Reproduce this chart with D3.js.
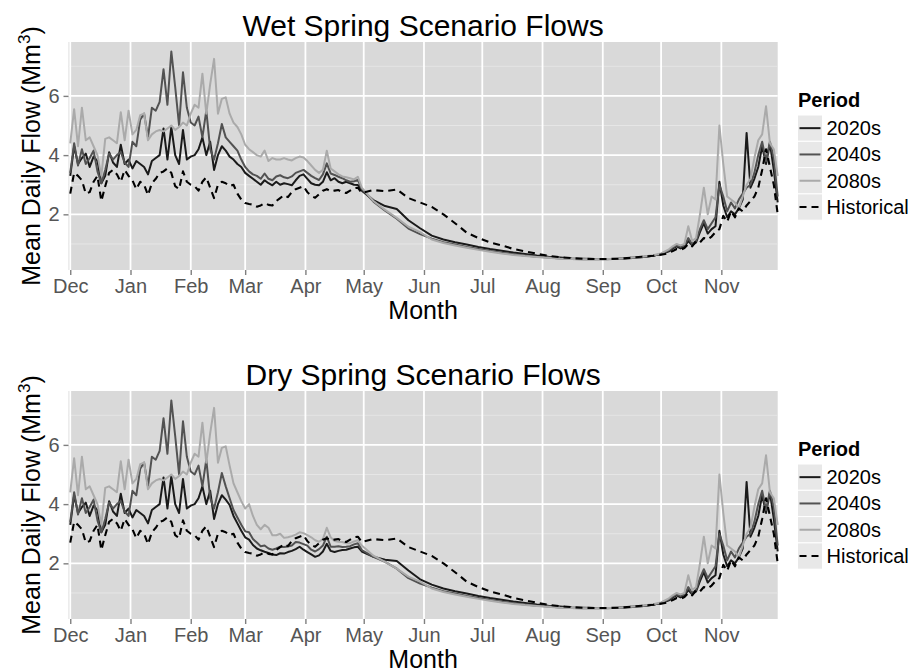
<!DOCTYPE html>
<html><head><meta charset="utf-8">
<script src="https://cdn.jsdelivr.net/npm/d3@7"></script>
<style>
body{margin:0;background:#fff}
svg{display:block}
text{font-family:"Liberation Sans",Arial,Helvetica,sans-serif}
</style>
</head><body>
<svg id="chart" width="913" height="669"></svg>
<script>
// ---------------- DATA ----------------
const monthLabels = ["Dec","Jan","Feb","Mar","Apr","May","Jun","Jul","Aug","Sep","Oct","Nov"];
const yTicks = [2,4,6];
const periods = ["2020s","2040s","2080s","Historical"];
const panelTitles = ["Wet Spring Scenario Flows","Dry Spring Scenario Flows"];

// day index: 0 = 1 December
const daysWinter = [0,2,4,6,8,10,12,14,16,18,20,22,24,26,28,30,32,34,36,38,40,42,44,46,48,50,52,54,56,58,60,62,64,66,68,70,72,74,76,78,80];
const daysSpring = [82,84,86,88,90,92,94,96,98,100,102,104,106,108,110,112,114,116,118,120,122,124,126,128,130,132,134,136,138,140,142,144,146,148,150,156,162,168,174,180];
const daysSummerFall = [186,192,198,204,210,216,222,228,234,240,246,252,258,264,270,276,282,288,294,300,
  302,304,306,308,310,312,314,316,318,320,322,324,326,328,330,332,334,336,338,340,342,344,346,348,350,352,354,356,358,360,362,364];

// Dec-Feb (same in both scenarios)
const winter2020s = [3.3,4.3,3.7,3.9,4.05,3.6,3.95,3.8,3.05,3.3,4.1,3.75,3.6,4.35,3.7,3.85,3.55,3.8,3.7,3.6,3.35,3.8,3.9,4.0,4.9,3.85,4.95,4.0,3.7,4.85,3.85,3.95,4.0,4.2,4.6,4.0,4.45,3.5,4.0,4.3,4.15];
const winter2040s = [3.4,4.4,3.65,4.2,3.7,3.9,4.15,3.45,3.05,3.5,4.05,3.85,4.0,4.1,3.75,3.6,4.45,4.3,5.2,5.4,4.6,5.6,5.5,5.8,6.9,5.7,7.5,6.3,5.0,6.8,5.6,5.1,5.0,5.3,4.6,5.5,4.2,3.85,4.4,5.05,4.6];
const winter2080s = [4.4,5.55,4.3,5.6,4.5,4.6,4.3,4.0,3.3,4.55,4.6,4.5,4.4,5.45,4.5,5.5,4.7,4.85,5.35,5.4,4.5,4.7,4.8,4.85,4.8,4.9,5.0,4.85,4.95,5.1,5.0,5.4,5.7,5.6,6.75,5.4,6.4,7.25,5.4,5.9,5.95];
const winterHistorical = [2.7,3.4,3.3,3.15,2.7,2.75,3.1,3.3,2.45,2.95,3.4,3.5,3.35,3.1,3.5,3.3,3.15,2.85,3.1,3.0,2.65,3.05,3.2,3.4,3.45,3.55,3.4,2.95,2.85,3.45,3.1,3.0,2.95,2.8,3.1,3.25,2.9,2.55,3.0,3.1,3.05];

// Mar-May, wet spring scenario
const wetSpring2020s = [3.95,3.85,3.7,3.6,3.4,3.3,3.2,3.1,3.0,3.15,3.05,2.98,3.1,3.0,3.05,3.02,2.98,3.15,3.3,3.35,3.2,3.05,3.0,2.98,3.1,3.42,3.15,3.22,3.1,3.05,3.1,3.05,3.0,2.99,2.8,2.48,2.28,2.18,1.8,1.53];
const wetSpring2040s = [4.45,4.3,4.15,3.85,3.6,3.45,3.35,3.3,3.2,3.38,3.2,3.15,3.28,3.32,3.25,3.22,3.28,3.4,3.45,3.5,3.4,3.3,3.22,3.16,3.35,3.72,3.38,3.33,3.27,3.22,3.15,3.1,3.12,3.16,2.85,2.43,2.12,1.85,1.52,1.33];
const wetSpring2080s = [5.4,5.1,4.95,4.7,4.35,4.2,4.1,4.0,3.95,4.15,3.8,3.9,3.85,3.85,3.9,3.85,3.82,3.9,3.95,3.92,3.8,3.65,3.5,3.4,3.5,4.15,3.55,3.45,3.35,3.28,3.25,3.22,3.18,3.27,2.9,2.45,2.15,1.88,1.58,1.4];
// Mar-May, dry spring scenario
const drySpring2020s = [3.97,3.6,3.35,3.1,2.88,2.8,2.62,2.5,2.44,2.39,2.35,2.3,2.28,2.34,2.33,2.38,2.42,2.48,2.56,2.46,2.38,2.3,2.22,2.27,2.4,2.66,2.42,2.38,2.42,2.45,2.46,2.5,2.54,2.56,2.4,2.22,2.12,2.08,1.76,1.46];
const drySpring2040s = [4.2,3.8,3.55,3.3,3.08,3.05,2.82,2.7,2.58,2.6,2.5,2.46,2.5,2.56,2.55,2.57,2.6,2.72,2.7,2.65,2.6,2.46,2.4,2.48,2.6,2.9,2.56,2.56,2.58,2.55,2.56,2.58,2.64,2.68,2.45,2.22,2.05,1.82,1.5,1.32];
const drySpring2080s = [5.3,4.7,4.4,4.1,3.85,4.0,3.6,3.3,3.15,3.3,3.2,2.95,2.95,3.0,2.86,2.88,2.92,2.97,3.05,3.02,2.95,2.88,2.78,2.73,2.82,3.2,2.88,2.75,2.73,2.72,2.68,2.68,2.74,2.78,2.6,2.26,2.05,1.82,1.55,1.38];
const springHistorical = [2.95,3.0,2.7,2.5,2.38,2.35,2.33,2.26,2.3,2.38,2.32,2.3,2.45,2.55,2.65,2.58,2.75,2.85,2.9,2.95,2.75,2.62,2.56,2.68,2.8,2.85,2.78,2.8,2.82,2.75,2.72,2.8,2.88,2.9,2.72,2.82,2.78,2.84,2.55,2.4];

// Jun-Nov (same in both scenarios)
const summerFall2020s = [1.28,1.15,1.06,0.98,0.9,0.83,0.77,0.71,0.66,0.61,0.57,0.54,0.51,0.5,0.49,0.49,0.5,0.53,0.55,0.6,
  0.63,0.65,0.7,0.75,0.85,0.92,0.85,0.9,1.1,0.95,1.05,1.4,1.7,1.35,1.5,1.6,3.1,2.3,1.9,2.1,2.0,2.2,2.5,4.75,2.9,3.2,3.6,4.3,3.7,4.4,3.5,2.4];
const summerFall2040s = [1.18,1.06,0.98,0.9,0.83,0.76,0.7,0.65,0.61,0.57,0.54,0.51,0.49,0.48,0.48,0.48,0.5,0.52,0.56,0.6,
  0.63,0.66,0.72,0.78,0.88,0.95,0.9,0.95,1.2,1.0,1.1,1.5,1.8,1.5,1.7,1.9,3.0,2.6,2.1,2.4,2.2,2.5,2.7,2.9,3.0,3.4,4.0,4.45,3.8,4.45,3.9,2.6];
const summerFall2080s = [1.15,1.03,0.95,0.87,0.8,0.74,0.68,0.63,0.59,0.56,0.53,0.5,0.49,0.48,0.48,0.49,0.5,0.53,0.57,0.62,
  0.65,0.68,0.75,0.82,0.92,1.0,0.95,1.0,1.6,1.1,1.2,2.0,2.9,2.0,2.6,2.5,5.0,3.7,2.6,2.5,2.4,2.2,2.6,3.0,3.2,3.9,4.5,4.7,5.65,4.4,4.2,3.3];
const summerFallHistorical = [2.25,2.0,1.7,1.38,1.2,1.05,0.95,0.83,0.75,0.67,0.6,0.55,0.52,0.5,0.49,0.49,0.5,0.53,0.57,0.6,
  0.62,0.64,0.66,0.7,0.76,0.83,0.8,0.86,1.0,0.92,1.1,1.05,1.2,1.15,1.25,1.4,1.5,1.95,1.75,2.1,1.9,2.2,2.1,2.3,2.45,2.6,2.9,3.5,4.2,3.6,3.0,2.0];

// ---------------- BUILD ----------------
const days = daysWinter.concat(daysSpring, daysSummerFall);
const panels = [
  { title: panelTitles[0], offset: 0, series: {
      "2020s": winter2020s.concat(wetSpring2020s, summerFall2020s),
      "2040s": winter2040s.concat(wetSpring2040s, summerFall2040s),
      "2080s": winter2080s.concat(wetSpring2080s, summerFall2080s),
      "Historical": winterHistorical.concat(springHistorical, summerFallHistorical) } },
  { title: panelTitles[1], offset: 349, series: {
      "2020s": winter2020s.concat(drySpring2020s, summerFall2020s),
      "2040s": winter2040s.concat(drySpring2040s, summerFall2040s),
      "2080s": winter2080s.concat(drySpring2080s, summerFall2080s),
      "Historical": winterHistorical.concat(springHistorical, summerFallHistorical) } }
];

const style = {
  "2020s": {color:"#1a1a1a", dash:null, w:2.0},
  "2040s": {color:"#525252", dash:null, w:2.0},
  "2080s": {color:"#aaaaaa", dash:null, w:2.0},
  "Historical": {color:"#000000", dash:"7,5", w:2.1}
};

const svg = d3.select("#chart");
const L = 68.5, R = 777.7, T = 42, B = 270;
const base = Date.UTC(2001, 11, 1);
const toDate = d => new Date(base + d * 864e5);
const x = d3.scaleUtc().domain([toDate(-0.9), toDate(364)]).range([L, R]);
const y = d3.scaleLinear().domain([0.12, 7.82]).range([B, T]);
const monthTicks = d3.utcMonth.range(toDate(0), toDate(365));
const minorY = [1,3,5,7];
const lineGen = d3.line().x(d => x(toDate(d[0]))).y(d => y(d[1]));

panels.forEach(p => {
  const g = svg.append("g").attr("transform", `translate(0,${p.offset})`);
  g.append("rect").attr("x", L).attr("y", T).attr("width", R - L).attr("height", B - T).attr("fill", "#d9d9d9");
  g.selectAll(".minor").data(minorY).join("line")
    .attr("x1", L).attr("x2", R).attr("y1", d => y(d)).attr("y2", d => y(d))
    .attr("stroke", "#e6e6e6").attr("stroke-width", 1);
  g.selectAll(".majy").data(yTicks).join("line")
    .attr("x1", L).attr("x2", R).attr("y1", d => y(d)).attr("y2", d => y(d))
    .attr("stroke", "#ffffff").attr("stroke-width", 1.8);
  g.selectAll(".majx").data(monthTicks).join("line")
    .attr("x1", d => x(d)).attr("x2", d => x(d)).attr("y1", T).attr("y2", B)
    .attr("stroke", "#ffffff").attr("stroke-width", 1.8);

  periods.forEach(name => {
    const vals = p.series[name];
    const pts = days.map((d, i) => [d, vals[i]]);
    g.append("path").attr("d", lineGen(pts)).attr("fill", "none")
      .attr("stroke", style[name].color).attr("stroke-width", style[name].w)
      .attr("stroke-linejoin", "round")
      .attr("stroke-dasharray", style[name].dash);
  });

  const xa = g.append("g").attr("transform", `translate(0,${B})`)
    .call(d3.axisBottom(x).tickValues(monthTicks).tickFormat((d, i) => monthLabels[i]).tickSize(5).tickPadding(4));
  const ya = g.append("g").attr("transform", `translate(${L},0)`)
    .call(d3.axisLeft(y).tickValues(yTicks).tickFormat(d3.format("d")).tickSize(5).tickPadding(4));
  [xa, ya].forEach(a => {
    a.select(".domain").remove();
    a.selectAll(".tick line").attr("stroke", "#7f7f7f").attr("stroke-width", 1.4);
    a.selectAll(".tick text").attr("fill", "#555").style("font-size", "20px")
      .style("font-family", '"Liberation Sans",Arial,sans-serif');
  });
  xa.selectAll(".tick text").attr("dy", null).attr("y", 23);
  ya.selectAll(".tick text").attr("x", -9);

  g.append("text").attr("x", (L + R) / 2).attr("y", 36).attr("text-anchor", "middle")
    .style("font-size", "30px").attr("fill", "#000").text(p.title);
  g.append("text").attr("x", (L + R) / 2).attr("y", 319).attr("text-anchor", "middle")
    .style("font-size", "25px").attr("fill", "#000").text("Month");
  const yt = g.append("text").attr("transform", `translate(40,${(T + B) / 2}) rotate(-90)`)
    .attr("text-anchor", "middle").style("font-size", "25px").attr("fill", "#000");
  yt.append("tspan").text("Mean Daily Flow (Mm");
  yt.append("tspan").attr("dy", -10).style("font-size", "17px").text("3");
  yt.append("tspan").attr("dy", 10).text(")");

  const lg = g.append("g").attr("transform", "translate(797.5,0)");
  lg.append("text").attr("x", 0.5).attr("y", 107).style("font-size", "20px").style("font-weight", "bold")
    .attr("fill", "#000").text("Period");
  const kh = 26.3, kw = 25, k0 = 115;
  periods.forEach((name, i) => {
    const ky = k0 + i * kh;
    lg.append("rect").attr("x", 0).attr("y", ky).attr("width", kw).attr("height", kh)
      .attr("fill", "#e8e8e8").attr("stroke", "#ffffff").attr("stroke-width", 1);
    lg.append("line").attr("x1", 2).attr("x2", kw - 2).attr("y1", ky + kh / 2).attr("y2", ky + kh / 2)
      .attr("stroke", style[name].color).attr("stroke-width", 2)
      .attr("stroke-dasharray", style[name].dash);
    lg.append("text").attr("x", kw + 4).attr("y", ky + kh / 2 + 7).style("font-size", "20px")
      .attr("fill", "#000").text(name);
  });
});
</script>
</body></html>
